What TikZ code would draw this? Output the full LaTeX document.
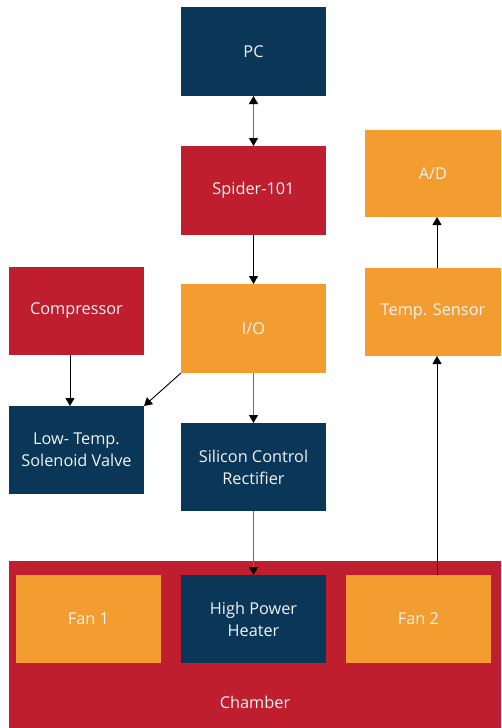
\documentclass[tikz,border=0pt]{standalone}
\usepackage{fontspec}
\setmainfont{Open Sans}
\usetikzlibrary{arrows.meta}
\definecolor{navy}{HTML}{0A3757}
\definecolor{crim}{HTML}{BE1E2D}
\definecolor{amber}{HTML}{F39C2F}
\definecolor{txt}{HTML}{F2F2F2}
\definecolor{linegrey}{HTML}{6E6E6E}
\tikzset{
  box/.style={inner sep=0pt, outer sep=0pt, text=txt, align=center,
    font=\fontsize{16.3}{22}\selectfont},
  tip/.tip={Triangle[width=9pt,length=8pt,color=black,fill=black]},
  conn/.style={-tip, line width=1.2pt, draw=linegrey},
  connb/.style={-tip, line width=0.9pt, draw=black},
}
\begin{document}
\begin{tikzpicture}[x=1pt,y=-1pt]
\useasboundingbox (0,0) rectangle (501,728);
% chamber
\fill[crim] (9,561) rectangle (501,728);
\node[box, minimum width=492pt, minimum height=167pt] (chamber) at (255,644.5) {};
\node[box] (chlab) at (255,702) {Chamber};
% blocks
\fill[navy] (181,7) rectangle (326,96);
\node[box, minimum width=145pt, minimum height=89pt] (pc) at (253.5,51.5) {PC};
\fill[crim] (181,146) rectangle (326,235);
\node[box, minimum width=145pt, minimum height=89pt] (spider) at (253.5,190.5) {\raisebox{-2pt}{Spider-101}};
\fill[amber] (365,130) rectangle (501,217);
\node[box, minimum width=136pt, minimum height=87pt] (ad) at (433,173.5) {A/D};
\fill[crim] (9,267) rectangle (144,355);
\node[box, minimum width=135pt, minimum height=88pt] (comp) at (76.5,311) {\raisebox{-3pt}{Compressor}};
\fill[amber] (181,284) rectangle (326,373);
\node[box, minimum width=145pt, minimum height=89pt] (io) at (253.5,328.5) {I/O};
\fill[amber] (365,268) rectangle (501,356);
\node[box, minimum width=136pt, minimum height=88pt] (ts) at (433,312) {\raisebox{-3pt}{Temp. Sensor}};
\fill[navy] (9,406) rectangle (144,494);
\node[box, minimum width=135pt, minimum height=88pt] (valve) at (76.5,450) {Low- Temp.\\Solenoid Valve};
\fill[navy] (181,423) rectangle (326,511);
\node[box, minimum width=145pt, minimum height=88pt] (scr) at (253.5,467) {Silicon Control\\Rectifier};
\fill[amber] (16,575) rectangle (161,663);
\node[box, minimum width=145pt, minimum height=88pt] (fan1) at (88.5,619) {Fan 1};
\fill[navy] (181,575) rectangle (326,663);
\node[box, minimum width=145pt, minimum height=88pt] (heater) at (253.5,619) {High Power\\Heater};
\fill[amber] (346,575) rectangle (491,663);
\node[box, minimum width=145pt, minimum height=88pt] (fan2) at (418.5,619) {Fan 2};
% connectors
\draw[conn, tip-tip] (pc.south) -- (spider.north);
\draw[connb] (spider.south) -- (io.north);
\draw[connb] (comp.south -| 70,0) -- (valve.north -| 70,0);
\draw[connb] (io.south west) -- (valve.north east);
\draw[conn] (io.south) -- (scr.north);
\draw[conn] (scr.south) -- (heater.north);
\draw[connb] (fan2.north -| 437,0) -- (ts.south -| 437,0);
\draw[connb] (ts.north -| 437,0) -- (ad.south -| 437,0);
\end{tikzpicture}
\end{document}
